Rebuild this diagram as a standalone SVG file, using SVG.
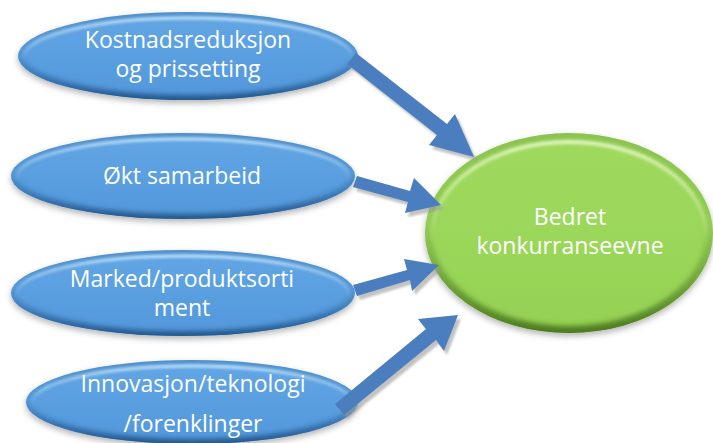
<svg xmlns="http://www.w3.org/2000/svg" width="713" height="443" viewBox="0 0 713 443">
  <defs>
    <linearGradient id="blueFill" x1="0" y1="0" x2="0" y2="1">
      <stop offset="0" stop-color="#62a6e4"/>
      <stop offset="0.5" stop-color="#5a9fe0"/>
      <stop offset="1" stop-color="#5297da"/>
    </linearGradient>
    <linearGradient id="greenFill" x1="0" y1="0" x2="0" y2="1">
      <stop offset="0" stop-color="#9fd95e"/>
      <stop offset="0.5" stop-color="#9bd75a"/>
      <stop offset="1" stop-color="#94d052"/>
    </linearGradient>
    <!-- bevel highlight near the top edge -->
    <linearGradient id="hiB" x1="0" y1="0" x2="0" y2="1">
      <stop offset="0" stop-color="#c8e6fb" stop-opacity="1"/>
      <stop offset="0.3" stop-color="#a9d5f6" stop-opacity="0.7"/>
      <stop offset="0.55" stop-color="#a9d5f6" stop-opacity="0"/>
      <stop offset="1" stop-color="#a9d5f6" stop-opacity="0"/>
    </linearGradient>
    <linearGradient id="hiG" x1="0" y1="0" x2="0" y2="1">
      <stop offset="0" stop-color="#e0f5c0" stop-opacity="1"/>
      <stop offset="0.3" stop-color="#cdeda0" stop-opacity="0.7"/>
      <stop offset="0.55" stop-color="#cdeda0" stop-opacity="0"/>
      <stop offset="1" stop-color="#cdeda0" stop-opacity="0"/>
    </linearGradient>
    <!-- bevel shade along the bottom edge -->
    <linearGradient id="loB" x1="0" y1="0" x2="0" y2="1">
      <stop offset="0" stop-color="#2d649c" stop-opacity="0.35"/>
      <stop offset="0.45" stop-color="#2d649c" stop-opacity="0.15"/>
      <stop offset="0.7" stop-color="#2d649c" stop-opacity="0.6"/>
      <stop offset="1" stop-color="#23568a" stop-opacity="1"/>
    </linearGradient>
    <linearGradient id="loG" x1="0" y1="0" x2="0" y2="1">
      <stop offset="0" stop-color="#5e8f2c" stop-opacity="0.3"/>
      <stop offset="0.45" stop-color="#5e8f2c" stop-opacity="0.15"/>
      <stop offset="0.7" stop-color="#5e8f2c" stop-opacity="0.6"/>
      <stop offset="1" stop-color="#4d7a22" stop-opacity="1"/>
    </linearGradient>
    <filter id="shadow" x="-10%" y="-20%" width="120%" height="150%">
      <feGaussianBlur in="SourceAlpha" stdDeviation="3"/>
      <feOffset dx="0" dy="3" result="b"/>
      <feFlood flood-color="#000" flood-opacity="0.3"/>
      <feComposite in2="b" operator="in"/>
      <feMerge><feMergeNode/><feMergeNode in="SourceGraphic"/></feMerge>
    </filter>
    <filter id="soft" x="-10%" y="-10%" width="120%" height="120%">
      <feGaussianBlur stdDeviation="1.5"/>
    </filter>
    <filter id="softer" x="-10%" y="-10%" width="120%" height="120%">
      <feGaussianBlur stdDeviation="2.5"/>
    </filter>
    <filter id="arrowShadow" x="-20%" y="-20%" width="140%" height="140%">
      <feGaussianBlur stdDeviation="1.2"/>
    </filter>
    <clipPath id="clipBlue1"><ellipse cx="188" cy="56" rx="170" ry="44"/></clipPath>
    <clipPath id="clipBlue2"><ellipse cx="183" cy="176" rx="172" ry="43"/></clipPath>
    <clipPath id="clipBlue3"><ellipse cx="183" cy="293" rx="172" ry="43"/></clipPath>
    <clipPath id="clipBlue4"><ellipse cx="192" cy="402" rx="166" ry="42"/></clipPath>
    <clipPath id="clipGreen"><ellipse cx="569" cy="233" rx="144" ry="100"/></clipPath>
  </defs>
  <style>
    .lbl { font-family: "Open Sans", "Liberation Sans", sans-serif; font-size: 23px; fill: #ffffff; text-anchor: middle; }
    .arrow { fill: #4a7ebf; }
    .arrow-sh { fill: #9a9a9a; opacity: 0.6; }
    .hiB { fill: none; stroke: url(#hiB); stroke-width: 3; }
    .loB { fill: none; stroke: url(#loB); stroke-width: 10; }
    .hiG { fill: none; stroke: url(#hiG); stroke-width: 4; }
    .loG { fill: none; stroke: url(#loG); stroke-width: 14; }
  </style>

  <rect width="713" height="443" fill="#ffffff"/>

  <g id="node-kostnad">
    <ellipse cx="188" cy="56" rx="170" ry="44" fill="url(#blueFill)" filter="url(#shadow)"/>
    <g clip-path="url(#clipBlue1)">
      <ellipse class="loB" cx="188" cy="56" rx="170" ry="44" filter="url(#softer)"/>
      <ellipse class="hiB" cx="188" cy="57" rx="164" ry="39" filter="url(#soft)"/>
    </g>
    <text class="lbl" x="188" y="48">Kostnadsreduksjon</text>
    <text class="lbl" x="188" y="77">og prissetting</text>
  </g>

  <g id="node-samarbeid">
    <ellipse cx="183" cy="176" rx="172" ry="43" fill="url(#blueFill)" filter="url(#shadow)"/>
    <g clip-path="url(#clipBlue2)">
      <ellipse class="loB" cx="183" cy="176" rx="172" ry="43" filter="url(#softer)"/>
      <ellipse class="hiB" cx="183" cy="177" rx="166" ry="38" filter="url(#soft)"/>
    </g>
    <text class="lbl" x="182" y="184">Økt samarbeid</text>
  </g>

  <g id="node-marked">
    <ellipse cx="183" cy="293" rx="172" ry="43" fill="url(#blueFill)" filter="url(#shadow)"/>
    <g clip-path="url(#clipBlue3)">
      <ellipse class="loB" cx="183" cy="293" rx="172" ry="43" filter="url(#softer)"/>
      <ellipse class="hiB" cx="183" cy="294" rx="166" ry="38" filter="url(#soft)"/>
    </g>
    <text class="lbl" x="182" y="287">Marked/produktsorti</text>
    <text class="lbl" x="182" y="316">ment</text>
  </g>

  <g id="node-innovasjon">
    <ellipse cx="192" cy="402" rx="166" ry="42" fill="url(#blueFill)" filter="url(#shadow)"/>
    <g clip-path="url(#clipBlue4)">
      <ellipse class="loB" cx="192" cy="402" rx="166" ry="42" filter="url(#softer)"/>
      <ellipse class="hiB" cx="192" cy="403" rx="160" ry="37" filter="url(#soft)"/>
    </g>
    <text class="lbl" x="193" y="392">Innovasjon/teknologi</text>
    <text class="lbl" x="193" y="432">/forenklinger</text>
  </g>

  <g id="node-bedret">
    <ellipse cx="569" cy="233" rx="144" ry="100" fill="url(#greenFill)" filter="url(#shadow)"/>
    <g clip-path="url(#clipGreen)">
      <ellipse class="loG" cx="569" cy="233" rx="144" ry="100" filter="url(#softer)"/>
      <ellipse class="hiG" cx="569" cy="235" rx="137" ry="93" filter="url(#soft)"/>
    </g>
    <text class="lbl" x="570" y="225">Bedret</text>
    <text class="lbl" x="570" y="254">konkurranseevne</text>
  </g>

  <!-- connectors, drawn over the node edges -->
  <g id="connectors">
    <g filter="url(#arrowShadow)" transform="translate(3,4)">
      <polygon class="arrow-sh" points="356,53 447,124 455,114 474,157 429,145 437,135 347,64"/>
      <polygon class="arrow-sh" points="357,176 410,191 414,178 441,205 405,213 408,202 353,187"/>
      <polygon class="arrow-sh" points="353,285 407,270 404,259 439,265 412,291 410,280 357,296"/>
      <polygon class="arrow-sh" points="335,404 426,329 418,319 458,315 444,351 436,340 344,415"/>
    </g>
    <polygon class="arrow" points="356,53 447,124 455,114 474,157 429,145 437,135 347,64"/>
    <polygon class="arrow" points="357,176 410,191 414,178 441,205 405,213 408,202 353,187"/>
    <polygon class="arrow" points="353,285 407,270 404,259 439,265 412,291 410,280 357,296"/>
    <polygon class="arrow" points="335,404 426,329 418,319 458,315 444,351 436,340 344,415"/>
  </g>
</svg>
